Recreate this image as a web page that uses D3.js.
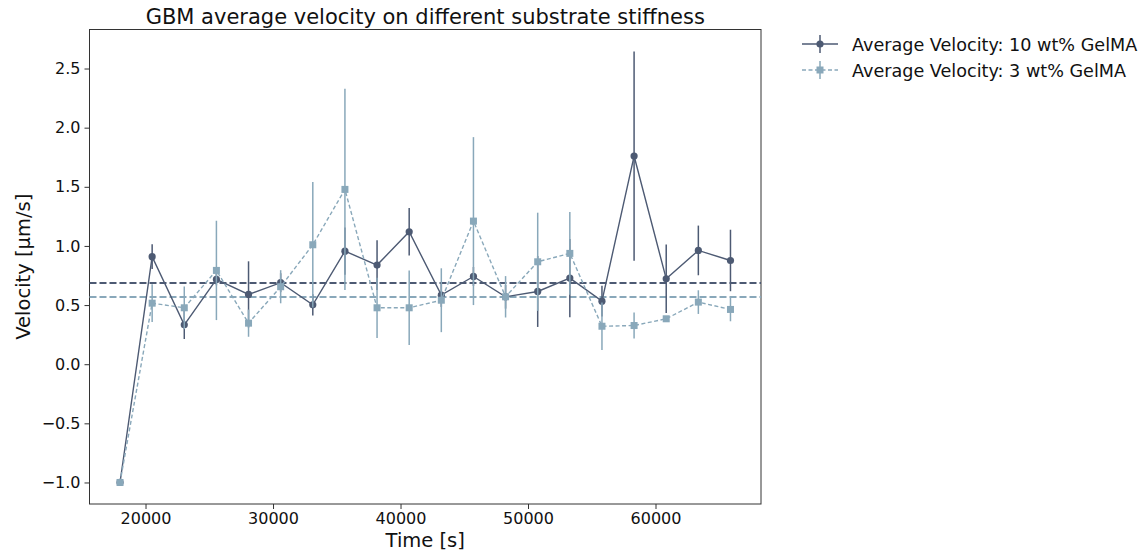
<!DOCTYPE html>
<html>
<head>
<meta charset="utf-8">
<script src="https://cdn.jsdelivr.net/npm/d3@7.9.0/dist/d3.min.js"></script>
<style>
  body { margin: 0; background: #fff; }
  svg { font-family: "DejaVu Sans", sans-serif; }
</style>
</head>
<body>
<svg id="chart" width="1143" height="554"></svg>
<script>
// ========== Data ==========

// time points (s), one every 2520 s starting at 18000
const times = [18000, 20520, 23040, 25560, 28080, 30600, 33120, 35640, 38160, 40680,
               43200, 45720, 48240, 50760, 53280, 55800, 58320, 60840, 63360, 65880];

// 10 wt% GelMA
const vel10 = [-1.0, 0.909, 0.333, 0.717, 0.59, 0.689, 0.502, 0.956, 0.838, 1.12,
               0.584, 0.742, 0.57, 0.615, 0.728, 0.533, 1.76, 0.722, 0.962, 0.877];
const err10 = [0.0, 0.105, 0.12, 0.05, 0.28, 0.08, 0.09, 0.2, 0.21, 0.2,
               0.1, 0.08, 0.1, 0.3, 0.33, 0.13, 0.885, 0.29, 0.21, 0.26];

// 3 wt% GelMA
const vel3 = [-1.0, 0.516, 0.477, 0.793, 0.347, 0.655, 1.01, 1.478, 0.477, 0.477,
              0.541, 1.21, 0.57, 0.866, 0.937, 0.321, 0.327, 0.384, 0.525, 0.463];
const err3 = [0.0, 0.16, 0.18, 0.42, 0.115, 0.14, 0.53, 0.85, 0.255, 0.315,
              0.27, 0.71, 0.175, 0.415, 0.35, 0.2, 0.11, 0.02, 0.1, 0.1];

const xTicks = [20000, 30000, 40000, 50000, 60000];
const yTicks = [-1.0, -0.5, 0.0, 0.5, 1.0, 1.5, 2.0, 2.5];

const seriesNames = ['Average Velocity: 10 wt% GelMA', 'Average Velocity: 3 wt% GelMA'];

const darkColor = '#4d5a73';
const lightColor = '#89a8ba';

// ========== Layout ==========

const svg = d3.select('#chart');
const plot = { left: 89.5, right: 761, top: 29.5, bottom: 504 };

const x = d3.scaleLinear().domain([15606, 68274]).range([plot.left, plot.right]);
const y = d3.scaleLinear().domain([-1.182, 2.83]).range([plot.bottom, plot.top]);

const series = [
  { name: seriesNames[0], vals: vel10, errs: err10, color: darkColor, dash: null, marker: 'circle' },
  { name: seriesNames[1], vals: vel3, errs: err3, color: lightColor, dash: '4,2.5', marker: 'square' }
];

// ========== Axes ==========

const xAxis = svg.append('g')
  .attr('transform', `translate(0,${plot.bottom})`)
  .call(d3.axisBottom(x).tickValues(xTicks).tickFormat(d3.format('d')).tickSize(5).tickPadding(4));

const yAxis = svg.append('g')
  .attr('transform', `translate(${plot.left},0)`)
  .call(d3.axisLeft(y).tickValues(yTicks).tickFormat(d => d3.format('.1f')(d).replace('-', '\u2212')).tickSize(5).tickPadding(4));

[xAxis, yAxis].forEach(a => {
  a.select('.domain').remove();
  a.selectAll('.tick line').attr('stroke', '#333').attr('stroke-width', 1);
  a.selectAll('.tick text').attr('font-size', 16).attr('fill', '#111')
    .attr('font-family', '"DejaVu Sans", sans-serif');
});

// frame
svg.append('rect')
  .attr('x', plot.left).attr('y', plot.top)
  .attr('width', plot.right - plot.left).attr('height', plot.bottom - plot.top)
  .attr('fill', 'none').attr('stroke', '#333').attr('stroke-width', 1);

// ========== Mean lines ==========

series.forEach(s => {
  const m = d3.mean(s.vals);
  svg.append('line')
    .attr('x1', plot.left).attr('x2', plot.right)
    .attr('y1', y(m)).attr('y2', y(m))
    .attr('stroke', s.color).attr('stroke-width', 2)
    .attr('stroke-dasharray', '7,3');
});

// ========== Series ==========

const line = d3.line().x((d, i) => x(times[i])).y(d => y(d));

series.forEach(s => {
  const g = svg.append('g');

  // error bars
  g.selectAll('line.err').data(s.vals).enter().append('line')
    .attr('class', 'err')
    .attr('x1', (d, i) => x(times[i])).attr('x2', (d, i) => x(times[i]))
    .attr('y1', (d, i) => y(d - s.errs[i])).attr('y2', (d, i) => y(d + s.errs[i]))
    .attr('stroke', s.color).attr('stroke-width', 1.5);

  g.append('path')
    .attr('d', line(s.vals))
    .attr('fill', 'none').attr('stroke', s.color).attr('stroke-width', 1.4)
    .attr('stroke-dasharray', s.dash);

  if (s.marker === 'circle') {
    g.selectAll('circle').data(s.vals).enter().append('circle')
      .attr('cx', (d, i) => x(times[i])).attr('cy', d => y(d))
      .attr('r', 3.6).attr('fill', s.color);
  } else {
    g.selectAll('rect').data(s.vals).enter().append('rect')
      .attr('x', (d, i) => x(times[i]) - 3.5).attr('y', d => y(d) - 3.5)
      .attr('width', 7).attr('height', 7).attr('fill', s.color);
  }
});

// ========== Labels ==========

svg.append('text')
  .attr('x', (plot.left + plot.right) / 2).attr('y', 24)
  .attr('text-anchor', 'middle').attr('font-size', 21).attr('fill', '#111')
  .text('GBM average velocity on different substrate stiffness');

svg.append('text')
  .attr('x', (plot.left + plot.right) / 2).attr('y', 547)
  .attr('text-anchor', 'middle').attr('font-size', 19.5).attr('fill', '#111')
  .text('Time [s]');

svg.append('text')
  .attr('transform', `translate(30,${(plot.top + plot.bottom) / 2}) rotate(-90)`)
  .attr('text-anchor', 'middle').attr('font-size', 19.5).attr('fill', '#111')
  .text('Velocity [µm/s]');

// ========== Legend ==========

const legend = svg.append('g').attr('transform', 'translate(802,44)');
series.forEach((s, i) => {
  const row = legend.append('g').attr('transform', `translate(0,${i * 26})`);
  row.append('line').attr('x1', 0).attr('x2', 36).attr('y1', 0).attr('y2', 0)
    .attr('stroke', s.color).attr('stroke-width', 1.4).attr('stroke-dasharray', s.dash);
  row.append('line').attr('x1', 18).attr('x2', 18).attr('y1', -9).attr('y2', 9)
    .attr('stroke', s.color).attr('stroke-width', 1.5);
  if (s.marker === 'circle') {
    row.append('circle').attr('cx', 18).attr('cy', 0).attr('r', 3.6).attr('fill', s.color);
  } else {
    row.append('rect').attr('x', 14.5).attr('y', -3.5).attr('width', 7).attr('height', 7).attr('fill', s.color);
  }
  row.append('text').attr('x', 50).attr('y', 6.5)
    .attr('font-size', 17.6).attr('fill', '#111').text(s.name);
});
</script>
</body>
</html>
